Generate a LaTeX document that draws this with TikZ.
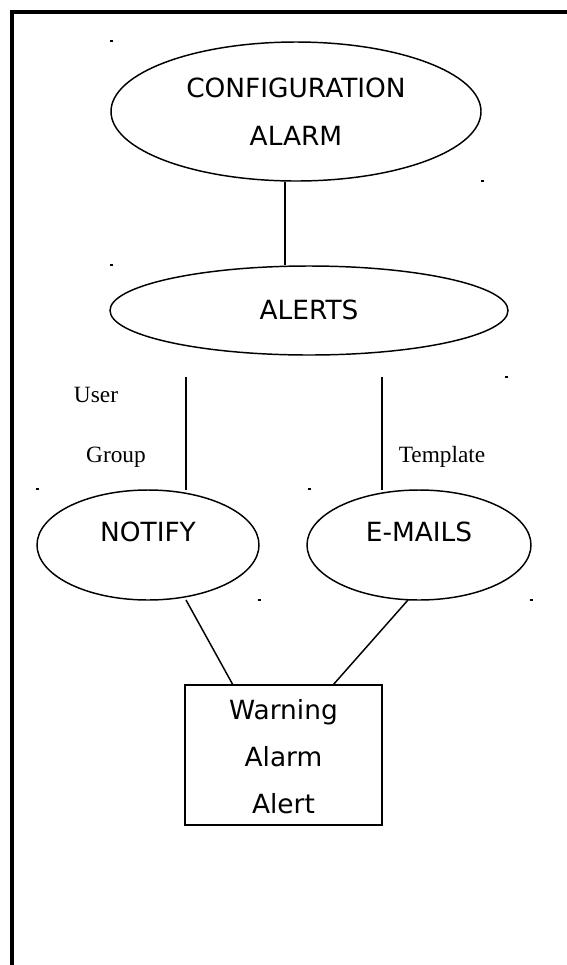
\documentclass[tikz,border=0pt]{standalone}
\usepackage{fontspec}
\setmainfont{DejaVu Sans}
\newfontfamily\labelfont{Liberation Serif}
\usetikzlibrary{shapes.geometric}
\begin{document}
\begin{tikzpicture}[x=0.75pt,y=-0.75pt,
  oval/.style={draw,ellipse,line width=1.1pt,inner sep=0pt},
  nodetext/.style={font=\fontsize{19.8}{36}\selectfont,align=center,inner sep=0pt},
  edgelabel/.style={font=\labelfont\fontsize{17.5}{20}\selectfont,inner sep=0pt},
  link/.style={line width=1.1pt},
  speck/.style={fill=black},
  frameline/.style={line width=3pt}]
\useasboundingbox (0,0) rectangle (567,965);
% frame
\draw[frameline] (10,12) -- (567,12);
\draw[frameline] (12,10) -- (12,965);
% nodes
\node[oval,minimum width=277.5pt,minimum height=104.25pt] (conf) at (296,111.5) {};
\node[nodetext] (conft) at (296,112) {CONFIGURATION\\ALARM};
\node[oval,minimum width=298.5pt,minimum height=66.75pt] (alerts) at (309,310.5) {};
\node[nodetext] (alertst) at (309,310) {ALERTS};
\node[oval,minimum width=166.5pt,minimum height=82.5pt] (notify) at (148,545) {};
\node[nodetext] (notifyt) at (148,532) {NOTIFY};
\node[oval,minimum width=168pt,minimum height=82.5pt] (emails) at (419,545) {};
\node[nodetext] (emailst) at (419,532) {E-MAILS};
\node[draw,line width=1.1pt,minimum width=147.75pt,minimum height=105pt,inner sep=0pt] (box) at (283.5,755) {};
\node[nodetext,font=\fontsize{19.8}{35.25}\selectfont] (boxt) at (283.5,757) {Warning\\Alarm\\Alert};
% labels
\node[edgelabel] (user) at (96,395) {User};
\node[edgelabel] (group) at (116,457) {Group};
\node[edgelabel] (template) at (442,457) {Template};
% free ends below ALERTS
\coordinate (la) at (186,377);
\coordinate (ra) at (382,377);
% connectors
\draw[link] ([xshift=-8.25pt]conf.south) -- ([xshift=-18pt]alerts.north);
\draw[link] (la) -- (186,490) coordinate (nt);
\draw[link] (ra) -- (382,490) coordinate (et);
\draw[link] (186,600) coordinate (nb) -- (233,685) coordinate (bl);
\draw[link] (408,600) coordinate (eb) -- (333,685) coordinate (br);
% small specks
\foreach \px/\py in {111/41,482/181,111/265,506/377,37/489,309/489,259/600,531/600}
  \fill[speck] (\px-1.5,\py-1) rectangle (\px+1.5,\py+1);
\end{tikzpicture}
\end{document}
